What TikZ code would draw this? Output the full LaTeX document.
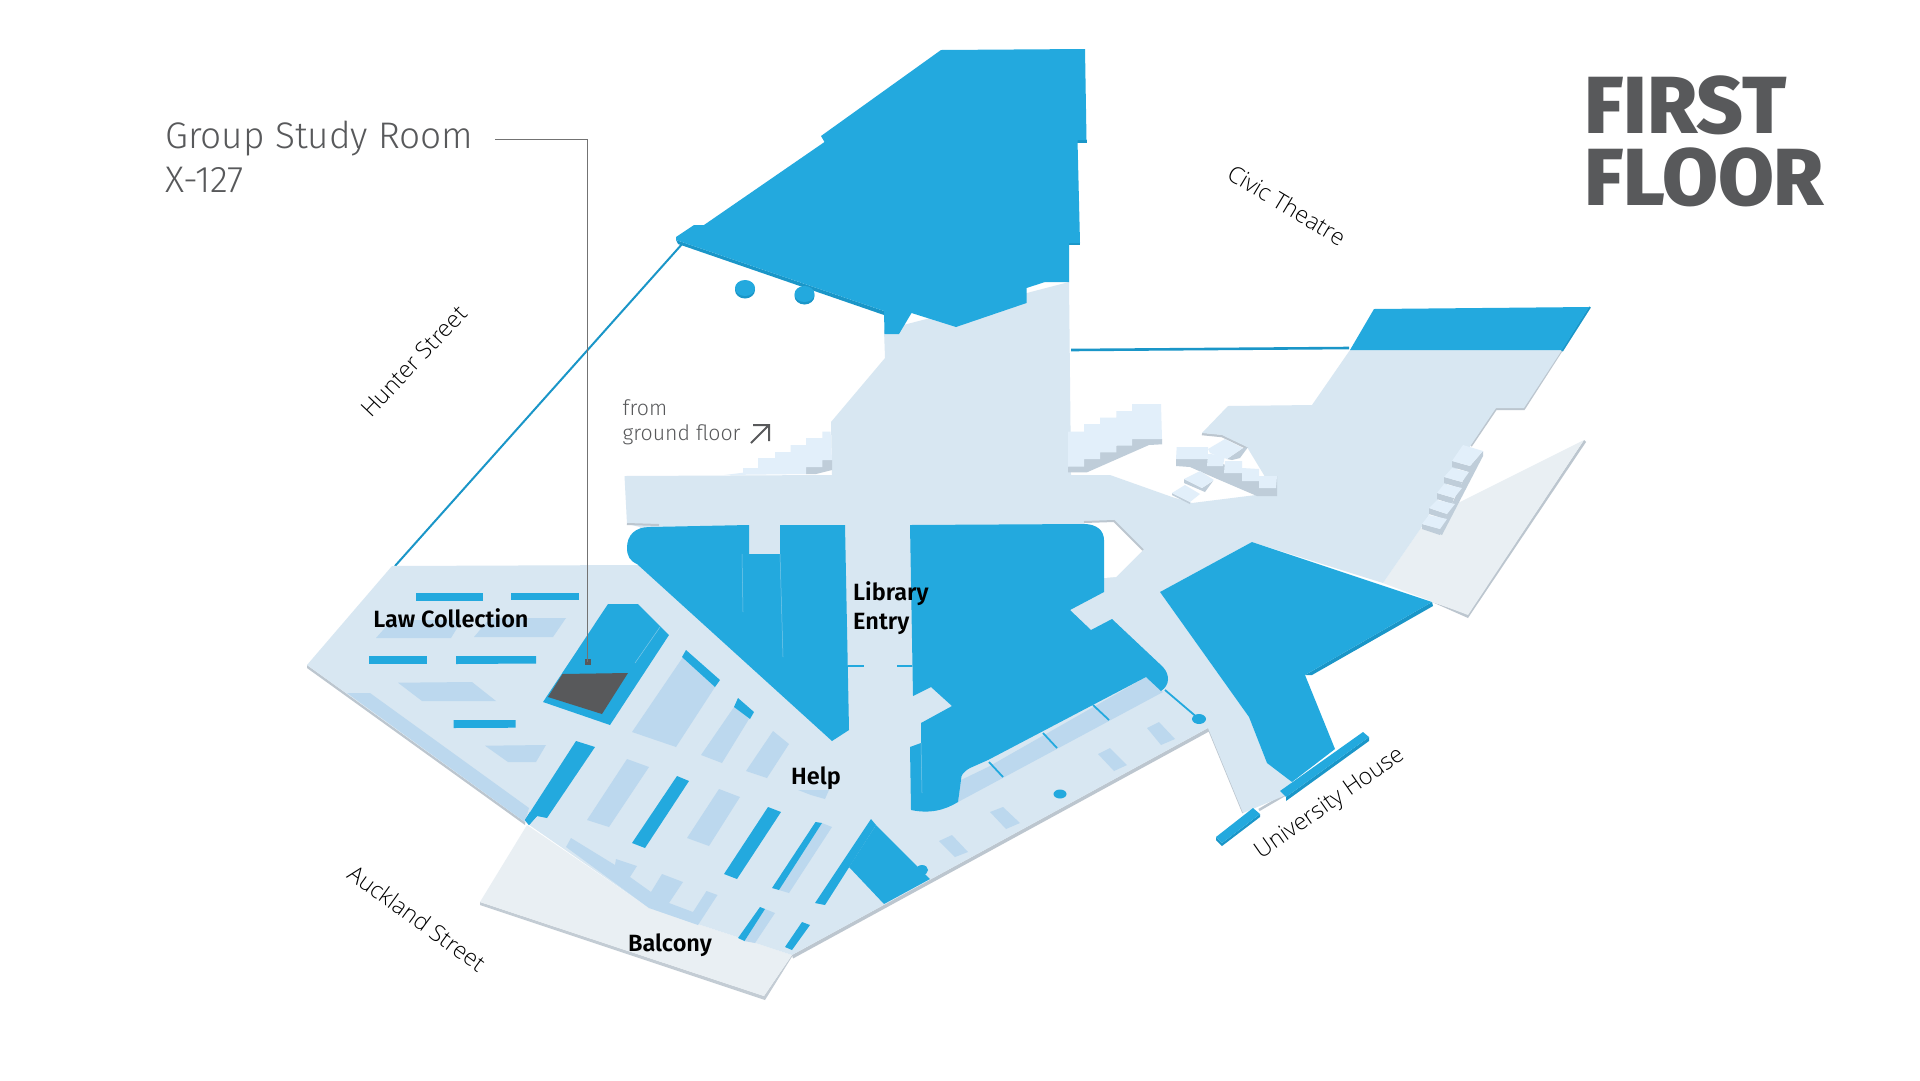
\documentclass[tikz,border=0pt]{standalone}
\usepackage{fontspec}
\setmainfont{Fira Sans}
\newfontfamily\lightf{Fira Sans Light}
\newfontfamily\semif{Fira Sans SemiBold}
\newfontfamily\xbold{Fira Sans ExtraBold}
\newfontfamily\strf{Open Sans Light}
\definecolor{bluem}{HTML}{23A9DE}
\definecolor{blued}{HTML}{1A96C8}
\definecolor{flr}{HTML}{D8E7F2}
\definecolor{mid}{HTML}{BCD8EE}
\definecolor{bal}{HTML}{E9EFF3}
\definecolor{stl}{HTML}{E2EFFA}
\definecolor{stg}{HTML}{BFCDD9}
\definecolor{edge}{HTML}{BCC6CF}
\definecolor{dk}{HTML}{58595B}
\tikzset{
  rm/.style={fill=bluem},
  lbl/.style={inner sep=0pt,font=\semif\fontsize{23.5}{29}\selectfont,text=black,align=left},
  strt/.style={inner sep=0pt,font=\strf\fontsize{23.2}{28}\selectfont,text=black},
  div/.style={draw=bluem,line width=1.8pt}
}
\begin{document}
\begin{tikzpicture}[x=1pt,y=-1pt]
\useasboundingbox (0,0) rectangle (1920,1080);
\fill[white] (0,0) rectangle (1920,1080);
% connecting lines
\coordinate (la) at (683,243); \coordinate (lb) at (395,566);
\coordinate (lc) at (1071,350); \coordinate (ld) at (1349,348);
\draw[blued,line width=2pt] (la) -- (lb);
\draw[blued,line width=2.6pt] (lc) -- (ld);
% right balcony
\fill[edge] (1432,602) -- (1468,618) -- (1586,442) -- (1584,440) -- (1468,614) -- cycle;
\fill[bal] (1584,440) -- (1468,615) -- (1383,583) -- (1421,528) -- (1458,503) -- cycle;
% left balcony
\fill[edge!90!white] (480,902) -- (764,996) -- (792,955) -- (793,955) -- (765,1000) -- (480,905) -- cycle;
\fill[bal] (527,825) -- (480,902) -- (764,996) -- (792,955) -- (649,908) -- cycle;
% floor edges
\fill[edge] (307,665) -- (525,822) -- (525,825) -- (307,668) -- cycle;
\fill[edge] (792,955) -- (1208,728) -- (1209,731.5) -- (793,958.5) -- cycle;
\draw[edge,line width=2pt] (1562,350) -- (1524,409) -- (1496,409) -- (1471,446);
\draw[edge,line width=1.5pt] (1208,728) -- (1243,813);
\draw[edge,line width=2.5pt] (1259,810) -- (1288,793);
\draw[edge,line width=2.5pt] (1202,434) -- (1222,436) -- (1247,448);
% floor
\fill[flr] (392,566) -- (639,565) -- (640,527) -- (627,524) -- (624.5,476) -- (832,475) -- (831,422) -- (885,358) -- (884,330) -- (1000,300) -- (1069,282) -- (1071,475) -- (1110,475) -- (1172,497) -- (1192,503) -- (1256,495) -- (1276,495) -- (1247,447) -- (1222,435) -- (1202,433) -- (1228,406) -- (1312,405) -- (1350,350) -- (1562,350) -- (1524,408) -- (1496,408) -- (1471,445) -- (1421,528) -- (1383,583) -- (1252,542) -- (1160,592) -- (1249,717) -- (1267,763) -- (1292,780) -- (1286,795) -- (1243,813) -- (1208,728) -- (792,955) -- (649,908) -- (525,822) -- (307,665) -- cycle;
\draw[edge,line width=2pt] (627,524) -- (659,525);
% hole
\fill[white] (1084,522) -- (1114,521) -- (1143,550) -- (1116,577) -- (1104,578) -- cycle;
\draw[edge,line width=2pt] (1084,522) -- (1114,521) -- (1143,550);
% left stair
\fill[stg] (822,460) -- (832,460) -- (832,470) -- (816,474) -- (806,474) -- (806,467) -- (822,467) -- cycle;
\fill[stl] (724.5,475) -- (743,472.7) -- (743,468) -- (758,468) -- (758,458) -- (775,458) -- (775,452) -- (790.6,452) -- (790.6,445) -- (806,445) -- (806,438) -- (822.4,438) -- (822.4,431.7) -- (830.6,431.7) -- (832,460) -- (822.4,460) -- (822.4,467) -- (806,467) -- (806,474) -- cycle;
% right stair
\fill[stg] (1132,439) -- (1162,439) -- (1162,444.3) -- (1149,445) -- (1087,472.3) -- (1068,472.3) -- (1068,466.7) -- (1084,459) -- (1100,452.3) -- (1116.4,445.7) -- cycle;
\fill[stl] (1068,431.7) -- (1084,431.7) -- (1084,424) -- (1100,424) -- (1100,417.7) -- (1116.4,417.7) -- (1116.4,411) -- (1132,411) -- (1132,404) -- (1161,404) -- (1162,439) -- (1132,439) -- (1132,445.7) -- (1116.4,445.7) -- (1116.4,452.3) -- (1100,452.3) -- (1100,459) -- (1084,459) -- (1084,466.7) -- (1068,466.7) -- cycle;
% middle stair
\fill[stg] (1176,459) -- (1208,459) -- (1259,476) -- (1277,476) -- (1277,496) -- (1257,496) -- (1215,478) -- (1190,467) -- (1176,466) -- cycle;
\fill[stg] (1227,459) -- (1243,448) -- (1248,447) -- (1240,458) -- (1232,460) -- cycle;
\fill[stl] (1208,449) -- (1225,439) -- (1243,448) -- (1227,459) -- (1210,453) -- cycle;
\fill[stl] (1176.7,447) -- (1208,447) -- (1207.7,459) -- (1176,459) -- cycle;
\fill[stl] (1208,454) -- (1225,455) -- (1223,466) -- (1207,466) -- cycle;
\fill[stl] (1225,461) -- (1242,461) -- (1242,473) -- (1224,473) -- cycle;
\fill[stl] (1242,468) -- (1259,469) -- (1259,481) -- (1242,481) -- cycle;
\fill[stl] (1259,476) -- (1277,476) -- (1276,488) -- (1259,488) -- cycle;
\fill[stg] (1184,479) -- (1202,488) -- (1213,481) -- (1205,492) -- (1184,483) -- cycle;
\fill[stl] (1184,479) -- (1200,471) -- (1214,480) -- (1202,488) -- cycle;
\fill[stg] (1172,493) -- (1190,502) -- (1190,504) -- (1172,495) -- cycle;
\fill[stl] (1172,493) -- (1185,485) -- (1200,494) -- (1190,502) -- cycle;
% right-hand steps
\fill[stg] (1483,451) -- (1483,456) -- (1442,535) -- (1438,533) -- (1470,466) -- cycle;
\fill[stg] (1452,461) -- (1470,466) -- (1469,472) -- (1452,467) -- cycle;
\fill[stl] (1463,445) -- (1483,451) -- (1470,466) -- (1452,461) -- cycle;
\fill[stg] (1444,477) -- (1462,482) -- (1460,488) -- (1444,483) -- cycle;
\fill[stl] (1452,468) -- (1469,472) -- (1462,482) -- (1444,477) -- cycle;
\fill[stg] (1437,493) -- (1454,498) -- (1452,504) -- (1437,499) -- cycle;
\fill[stl] (1444,484) -- (1462,488) -- (1454,498) -- (1437,493) -- cycle;
\fill[stg] (1429,508) -- (1447,514) -- (1445,519) -- (1429,514) -- cycle;
\fill[stl] (1437,500) -- (1455,504) -- (1447,514) -- (1429,508) -- cycle;
\fill[stg] (1422,524) -- (1440,529) -- (1440,535) -- (1422,529) -- cycle;
\fill[stl] (1429,515) -- (1447,519) -- (1440,529) -- (1422,524) -- cycle;
% top room
\fill[blued] (676,240) -- (884,311) -- (884,315) -- (678,244) -- cycle;
\fill[blued] (1077,143) -- (1087,143) -- (1087,140) -- (1077,140) -- cycle;
\fill[blued] (1069,245) -- (1080,245) -- (1080,242) -- (1069,242) -- cycle;
\fill[rm] (941,50) -- (1085,49) -- (1086.5,140) -- (1077.5,140) -- (1080,243) -- (1069,243) -- (1069,282) -- (1045,282) -- (1026.5,288) -- (1026.5,303) -- (956,327) -- (911.5,313) -- (899,334) -- (884.5,334) -- (884,311) -- (676,240) -- (676,237) -- (694,225) -- (704,225) -- (824.5,142) -- (821,136) -- cycle;
\fill[blued] (745,290) ellipse [x radius=10, y radius=8.5];
\fill[rm] (745,288) ellipse [x radius=10, y radius=8];
\fill[blued] (804.5,296) ellipse [x radius=10, y radius=8.5];
\fill[rm] (804.5,294) ellipse [x radius=10, y radius=8];
% upper right room
\draw[blued,line width=2pt] (1562,351) -- (1590,307);
\fill[rm] (1374,309) -- (1589,307) -- (1562,350) -- (1350,350) -- cycle;
% lower right room
\fill[blued] (1432,602) -- (1433,606) -- (1312,675) -- (1305,675) -- cycle;
\fill[rm] (1252,542) -- (1432,602) -- (1305,675) -- (1335,749) -- (1292,782) -- (1267,763) -- (1249,717) -- (1160,592) -- cycle;
% University House bars
\fill[blued] (1369,737) -- (1369,741) -- (1286,801) -- (1286,797) -- cycle;
\fill[rm] (1363,732) -- (1369,737) -- (1286,797) -- (1280,791) -- cycle;
\fill[blued] (1216,837) -- (1222,843) -- (1260,814) -- (1260,817) -- (1222,846) -- (1216,840) -- cycle;
\fill[rm] (1253,808) -- (1260,814) -- (1222,843) -- (1216,837) -- cycle;
% light band beneath room B
\fill[mid] (1146,677) -- (1163,692) -- (958,802) -- (961,780) -- (988,767) -- cycle;
% room A
\fill[rm] (749,525) -- (650,527) .. controls (635,527) and (627,535) .. (627,548) .. controls (627,556) and (630,561) .. (637,564) -- (832,741) -- (849,730) -- (845,525) -- (780,525) -- (780,554) -- (749,554) -- cycle;
\draw[flr!50!bluem,line width=.5pt] (742,554) -- (743,612);
\draw[flr!50!bluem,line width=.5pt] (780,554) -- (783,657);
% room B
\fill[rm] (910,525) -- (1084,524) .. controls (1096,524) and (1104,530) .. (1104,540) -- (1104,592) -- (1070,610) -- (1091,630) -- (1112,619) -- (1163,667) .. controls (1170,675) and (1170,685) .. (1161,691) -- (1146,677) -- (988,760) -- (970,768) .. controls (963,772) and (961,775) .. (961,780) -- (958,802) .. controls (945,810) and (930,814) .. (911,810) -- (910,747) -- (921,743) -- (921,723) -- (952,706) -- (931,687) -- (913,696) -- cycle;
\draw[flr!50!bluem,line width=.5pt] (921,743) -- (922,793);
% dividers
\draw[div] (1093,705) -- (1109,720);
\draw[div] (1043,733) -- (1057,748);
\draw[div] (989,762) -- (1003,777);
\draw[div] (1165,690) -- (1199,719);
\fill[rm] (1199,719) ellipse [x radius=7, y radius=5];
\fill[rm] (1060,794) ellipse [x radius=6.5, y radius=4.5];
\draw[bluem,line width=1.5pt] (848,666) -- (864,666);
\draw[bluem,line width=1.5pt] (897,666) -- (912,666);
% small light pads
\fill[mid] (1147,728) -- (1159,722) -- (1175,739) -- (1161,745) -- cycle;
\fill[mid] (1098,754) -- (1110,748) -- (1127,765) -- (1114,771) -- cycle;
\fill[mid] (990,812) -- (1003,807) -- (1020,823) -- (1006,829) -- cycle;
\fill[mid] (939,841) -- (952,835) -- (968,852) -- (955,857) -- cycle;
% law collection
\fill[mid] (347,693) -- (370,693) -- (529,808) -- (525,822) -- cycle;
\fill[rm] (415.5,592.7) -- (483,592.7) -- (483,600.7) -- (415.5,600.7) -- cycle;
\fill[rm] (511,592.7) -- (579,592.7) -- (579,600) -- (511,600) -- cycle;
\fill[rm] (369,656) -- (427,656) -- (427,664) -- (369,664) -- cycle;
\fill[rm] (456,656) -- (536,656) -- (536,663.5) -- (456,664) -- cycle;
\fill[rm] (453.5,720) -- (515.5,720) -- (515.5,727.7) -- (453.5,728) -- cycle;
\fill[mid] (392,620) -- (462,620) -- (451,638) -- (376,638) -- cycle;
\fill[mid] (490,618) -- (566,618) -- (553,637) -- (474,637) -- cycle;
\fill[mid] (398,682.7) -- (472,682) -- (496,701) -- (422,701) -- cycle;
\fill[mid] (485,745.7) -- (546,745) -- (536,762) -- (508,762) -- cycle;
% group study room
\fill[rm] (608,604) -- (638,604) -- (669,635) -- (610,725) -- (543,702) -- cycle;
\draw[flr!50!bluem,line width=.5pt] (660,627) -- (635,663);
\fill[dk] (562.5,674) -- (628,673) -- (602,714) -- (548,697) -- cycle;
% stacks
\fill[blued] (525,820) -- (529,825) -- (537,816) -- (530,812) -- cycle;
\fill[rm] (576,741) -- (595,747) -- (547,818) -- (537,816) -- (529,825) -- (525,820) -- cycle;
\fill[mid] (627,759) -- (649,767) -- (609,827) -- (587,820) -- cycle;
\fill[rm] (677,776) -- (689,781) -- (645,848) -- (632,843) -- cycle;
\fill[mid] (719,789) -- (740,797) -- (709,846) -- (687,838) -- cycle;
\fill[rm] (768,807) -- (781,812) -- (737,879) -- (724,874) -- cycle;
\fill[mid] (822,823) -- (832,827) -- (789,893) -- (779,890) -- cycle;
\fill[rm] (815.5,822) -- (822,823) -- (779,890) -- (772,888) -- cycle;
\fill[mid] (683,657) -- (715,687) -- (676,747) -- (632,732) -- cycle;
\fill[rm] (686,650) -- (720,680) -- (715,687) -- (682,657) -- cycle;
\fill[mid] (734,707) -- (749,719) -- (722,763) -- (701,755) -- cycle;
\fill[rm] (738,698) -- (754,712) -- (750,719) -- (734,707) -- cycle;
\fill[mid] (773,731) -- (789,744) -- (767,778) -- (746,771) -- cycle;
\fill[mid] (798,790) -- (829,790) -- (825,799) -- (811,795) -- cycle;
% balcony band
\fill[mid] (571,838) -- (615,865) -- (616,859) -- (637,866) -- (630,877) -- (651,892) -- (662,874) -- (683,882) -- (669,903) -- (693,912) -- (706.5,891) -- (717.5,895) -- (698,925) -- (649,908) -- (566,847) -- cycle;
% triangle room
\fill[rm] (871,819) -- (876,825) -- (825,905) -- (815,903) -- cycle;
\fill[rm] (876,825) -- (849,867) -- (884,904) -- (930,879) -- cycle;
\fill[rm] (922,870) ellipse [x radius=6, y radius=5];
\fill[mid] (765,909) -- (775,913) -- (755,943) -- (744,941) -- cycle;
\fill[rm] (760,907) -- (765,909) -- (744.5,941) -- (738,938) -- cycle;
\fill[rm] (802,922) -- (810,925) -- (792,950) -- (785,947) -- cycle;
% leader
\coordinate (leadend) at (495,139); \coordinate (leadcorner) at (587.5,139);
\fill[dk] (587.5,662) +(-3,-3) rectangle +(3,3);
\coordinate (leadstart) at (587.5,662);
\draw[gray!90!black,line width=.9pt] (leadstart) -- (leadcorner) -- (leadend);
% arrow
\coordinate (ara) at (751,443); \coordinate (arb) at (769,425);
\draw[dk,line width=2pt] (ara) -- (arb) (753,425) -- (arb) -- (769,441);
% text
\node[anchor=base west,inner sep=0pt,text=dk] (tfirst) at (1584,133) {\xbold\fontsize{81}{81}\selectfont FIRST};
\node[anchor=base west,inner sep=0pt,text=dk] (tfloor) at (1584,205) {\xbold\fontsize{81}{81}\selectfont FLOOR};
\node[anchor=base west,inner sep=0pt,text=dk] (tgroup) at (165,148) {\lightf\fontsize{37}{37}\selectfont Group Study Room};
\node[anchor=base west,inner sep=0pt,text=dk] (tx) at (165,192) {\lightf\fontsize{37}{37}\selectfont X-127};
\node[anchor=base west,inner sep=0pt,text=dk] (tfrom) at (622.5,415.5) {\lightf\fontsize{21.3}{21}\selectfont from};
\node[anchor=base west,inner sep=0pt,text=dk] (tgf) at (622.5,440.5) {\lightf\fontsize{21.3}{21}\selectfont ground floor};
\node[lbl] (tlaw) at (451,618) {Law Collection};
\node[lbl,anchor=base west] (tlib) at (853,600) {Library};
\node[lbl,anchor=base west] (tent) at (853,629) {Entry};
\node[lbl] (thelp) at (816,778) {Help};
\node[lbl] (tbal) at (670,945) {Balcony};
\node[strt,rotate=46.5] (thun) at (414,361) {Hunter Street};
\node[strt,rotate=-31] (tciv) at (1287,205) {Civic Theatre};
\node[strt,rotate=-36] (tauk) at (417,918) {Auckland Street};
\node[strt,rotate=35] (tuni) at (1330,804) {University House};
\end{tikzpicture}
\end{document}
